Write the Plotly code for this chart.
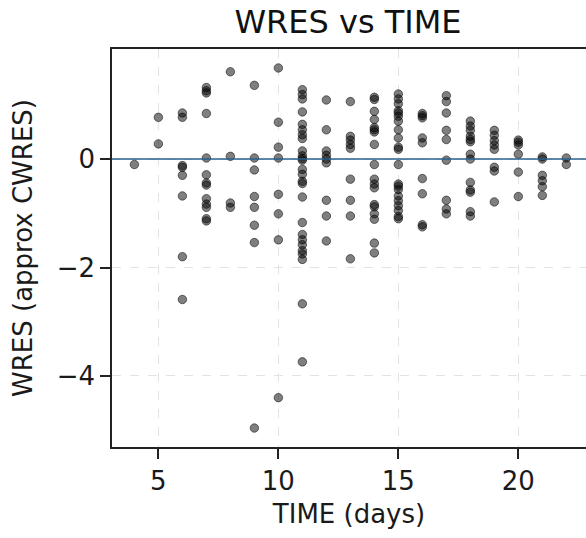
import plotly.graph_objects as go

# Data (TIME in days, WRES values)
t4 = [-0.10]
t5 = [0.77, 0.28]
t6 = [0.85, 0.77, -0.12, -0.15, -0.30, -0.68, -1.80, -2.59]
t7 = [1.32, 1.26, 1.22, 0.84, 0.02, -0.29, -0.44, -0.48, -0.73, -0.83, -0.89, -1.10, -1.14]
t8 = [1.61, 0.05, -0.81, -0.89]
t9 = [1.36, 0.02, -0.20, -0.69, -0.89, -1.22, -1.54, -4.96]
t10 = [1.68, 0.68, 0.22, 0.02, -0.65, -1.01, -1.49, -4.40]
t11 = [1.28, 1.19, 1.11, 0.87, 0.64, 0.54, 0.45, 0.38, 0.15, 0.06, 0.01, -0.02, -0.19, -0.28,
       -0.41, -0.45, -0.70, -1.17, -1.39, -1.49, -1.58, -1.69, -1.75, -1.85, -2.67, -3.74]
t12 = [1.09, 0.54, 0.15, 0.07, 0.00, -0.07, -0.76, -1.05, -1.51]
t13 = [1.06, 0.42, 0.35, 0.27, 0.20, -0.37, -0.76, -1.05, -1.84]
t14 = [1.14, 1.10, 0.88, 0.73, 0.58, 0.54, 0.50, 0.27, -0.10, -0.37, -0.46, -0.53, -0.84, -0.88,
       -1.01, -1.11, -1.55, -1.73]
t15 = [1.20, 1.11, 1.02, 0.89, 0.85, 0.79, 0.70, 0.54, 0.39, 0.22, 0.18, -0.10, -0.46, -0.50,
       -0.56, -0.68, -0.77, -0.86, -0.95, -1.06, -1.10]
t16 = [0.84, 0.80, 0.76, 0.39, 0.30, -0.36, -0.64, -1.21, -1.25]
t17 = [1.17, 1.06, 0.85, 0.53, 0.36, -0.02, -0.76, -0.92, -1.01]
t18 = [0.70, 0.61, 0.53, 0.42, 0.36, 0.32, 0.09, 0.00, -0.43, -0.57, -0.61, -0.97, -1.05]
t19 = [0.53, 0.44, 0.34, 0.26, 0.18, -0.15, -0.22, -0.79]
t20 = [0.35, 0.31, 0.26, 0.09, -0.24, -0.69]
t21 = [0.04, 0.00, -0.30, -0.40, -0.51, -0.67]
t22 = [0.02, -0.10]

groups = {4: t4, 5: t5, 6: t6, 7: t7, 8: t8, 9: t9, 10: t10, 11: t11, 12: t12, 13: t13,
          14: t14, 15: t15, 16: t16, 17: t17, 18: t18, 19: t19, 20: t20, 21: t21, 22: t22}

time_vals = []
wres_vals = []
for t, vals in groups.items():
    for v in vals:
        time_vals.append(t)
        wres_vals.append(v)

x_ticks = [5, 10, 15, 20]
y_ticks = [-4, -2, 0]
y_tick_text = ["\u22124", "\u22122", "0"]

FONT = "DejaVu Sans"
TXT = "#1a1a1a"

fig = go.Figure()
fig.add_trace(go.Scatter(
    x=time_vals, y=wres_vals, mode="markers",
    marker=dict(size=8.5, color="rgba(0,0,0,0.5)",
                line=dict(color="rgba(0,0,0,0.5)", width=1)),
    showlegend=False, hoverinfo="skip",
))
fig.add_hline(y=0, line=dict(color="#27608c", width=1.5))

fig.update_layout(
    width=586, height=538,
    margin=dict(l=112, r=0, t=49, b=91),
    paper_bgcolor="white", plot_bgcolor="white",
    font=dict(family=FONT, color=TXT),
    title=dict(text="WRES vs TIME", x=348 / 586, xanchor="center", y=1 - 22 / 538,
               yanchor="middle", yref="container", font=dict(size=32, family=FONT, color="#111")),
)
fig.update_xaxes(
    range=[3.067, 22.82], tickvals=x_ticks, ticks="outside", ticklen=10, tickwidth=1.5,
    tickcolor="#222", showline=True, mirror=True, linecolor="#222", linewidth=1.5,
    showgrid=True, gridcolor="#e3e3e3", griddash="dash", gridwidth=1,
    zeroline=False, tickfont=dict(size=26, family=FONT, color=TXT),
    title=dict(text="TIME (days)", font=dict(size=26, family=FONT, color=TXT), standoff=10),
)
fig.update_yaxes(
    range=[-5.31, 2.03], tickvals=y_ticks, ticktext=y_tick_text, ticks="outside", ticklen=10,
    tickwidth=1.5, tickcolor="#222", showline=True, mirror=False, linecolor="#222", linewidth=1.5,
    showgrid=True, gridcolor="#e3e3e3", griddash="dash", gridwidth=1,
    zeroline=False, tickfont=dict(size=26, family=FONT, color=TXT),
    title=dict(text="WRES (approx CWRES)", font=dict(size=26, family=FONT, color=TXT), standoff=17),
)

fig.write_html("out.html", config={"displayModeBar": False},
               post_script="document.body.style.margin='0px';document.body.style.overflow='hidden';")
